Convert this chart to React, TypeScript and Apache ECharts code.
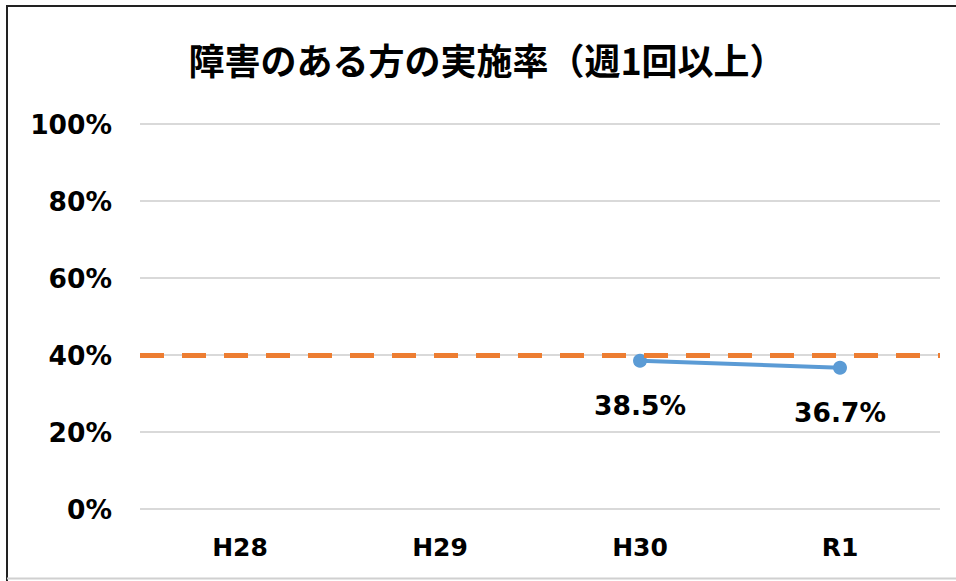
import React, { useEffect, useRef } from "react";
import * as echarts from "echarts";

const categories = ["H28", "H29", "H30", "R1"];
const rateValues: (number | null)[] = [null, null, 38.5, 36.7];
const targetValue = 40;
const titleText = "障害のある方の実施率（週1回以上）";

export default function App() {
  const ref = useRef<HTMLDivElement>(null);
  useEffect(() => {
    if (!ref.current) return;
    const chart = echarts.init(ref.current, null, { renderer: "svg" });
    const font = "'DejaVu Sans', Verdana, sans-serif";
    chart.setOption({
      animation: false,
      backgroundColor: "#ffffff",
      title: {
        text: titleText,
        left: 482,
        textAlign: "center",
        top: 36,
        textStyle: {
          fontFamily: "'Noto Sans CJK JP', sans-serif",
          fontWeight: "bold",
          fontSize: 36,
          color: "#000000",
        },
      },
      graphic: [
        { type: "line", shape: { x1: 6, y1: 6, x2: 956, y2: 6 }, style: { stroke: "#222", lineWidth: 2 } },
        { type: "line", shape: { x1: 7, y1: 6, x2: 7, y2: 581 }, style: { stroke: "#222", lineWidth: 2 } },
        { type: "line", shape: { x1: 7, y1: 578.5, x2: 956, y2: 578.5 }, style: { stroke: "#d0d0d0", lineWidth: 2 } },
      ],
      grid: { left: 140, right: 16, top: 124, bottom: 72 },
      xAxis: {
        type: "category",
        data: categories,
        boundaryGap: true,
        axisLine: { show: false },
        axisTick: { show: false },
        axisLabel: {
          margin: 26,
          fontFamily: font,
          fontWeight: "bold",
          fontSize: 25,
          color: "#000",
        },
      },
      yAxis: {
        type: "value",
        min: 0,
        max: 100,
        interval: 20,
        axisLine: { show: false },
        axisTick: { show: false },
        splitLine: { lineStyle: { color: "#d9d9d9", width: 2 } },
        axisLabel: {
          margin: 28,
          formatter: "{value}%",
          fontFamily: font,
          fontWeight: "bold",
          fontSize: 26.5,
          color: "#000",
        },
      },
      series: [
        {
          type: "line",
          data: rateValues,
          symbol: "circle",
          symbolSize: 14,
          lineStyle: { color: "#5B9BD5", width: 4 },
          itemStyle: { color: "#5B9BD5" },
          label: {
            show: true,
            position: "bottom",
            distance: 24,
            formatter: (p: any) => p.value.toFixed(1) + "%",
            fontFamily: font,
            fontWeight: "bold",
            fontSize: 26.5,
            color: "#000",
          },
          markLine: {
            silent: true,
            symbol: "none",
            label: { show: false },
            lineStyle: { color: "#ED7D31", width: 5, type: [24, 18] },
            data: [{ yAxis: targetValue }],
          },
        },
      ],
    });
    return () => chart.dispose();
  }, []);
  return (
    <div
      ref={ref}
      style={{ position: "fixed", left: 0, top: 0, width: 956, height: 581 }}
    />
  );
}
